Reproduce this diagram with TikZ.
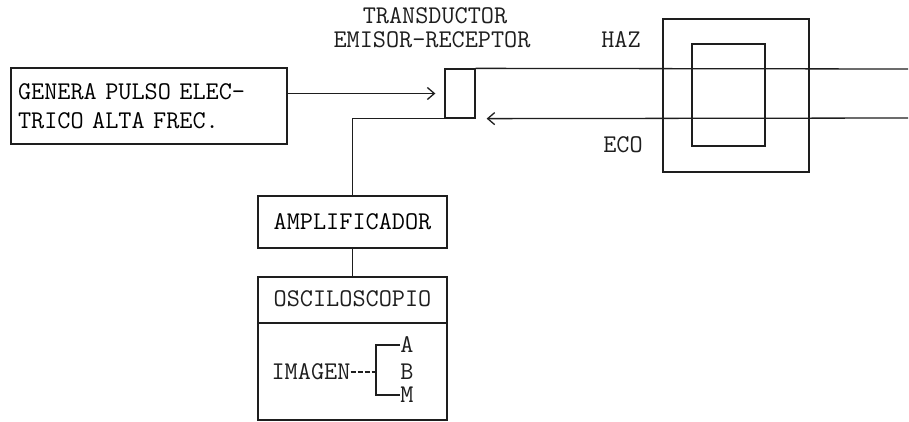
\documentclass[tikz,border=0pt]{standalone}
\usetikzlibrary{arrows.meta}
\definecolor{Cink}{HTML}{1E1E1E}

\begin{document}
\begin{tikzpicture}[x=1pt,y=-1pt,
		font=\ttfamily\fontsize{25.5}{29}\selectfont,
		box/.style={draw=Cink,line width=1.3pt,inner sep=0pt},
		wire/.style={draw=Cink,line width=1.3pt},
		chev/.style={-{Straight Barb[length=7pt,width=12pt,line width=1.3pt]}},
		lbl/.style={text=Cink,inner sep=0pt}]
	\useasboundingbox[fill=white] (0,0) rectangle (909,421);
	% bloques
	\node[box,minimum width=276pt,minimum height=76pt,text width=262pt,align=left]
	(genera) at (149,106) {GENERA PULSO ELEC-\\TRICO ALTA FREC.};
	\node[box,minimum width=30pt,minimum height=49pt] (trans) at (460,93.5) {};
	\node[box,minimum width=189pt,minimum height=52pt] (ampli) at (352.5,222) {AMPLIFICADOR};
	\node[box,minimum width=189pt,minimum height=143pt] (osci) at (352.5,348.5) {};
	\node[lbl] (oscititle) at (352.5,299) {OSCILOSCOPIO};
	\draw[wire] (osci.west |- 0,323) -- (osci.east |- 0,323);
	% objeto
	\draw[wire] (663,19) rectangle (809,172);
	\draw[wire] (692,44) rectangle (765,146);
	% rotulos
	\node[lbl] (transtop) at (435,16) {TRANSDUCTOR};
	\node[lbl] (transbot) at (432,40) {EMISOR-RECEPTOR};
	\node[lbl] (haz) at (621,40) {HAZ};
	\node[lbl] (eco) at (623,145) {ECO};
	% conexiones
	\coordinate (hazend) at (908,69);
	\coordinate (ecoend) at (908,118);
	\draw[wire,chev,shorten >=9pt] (genera.east |- trans.west) -- (trans.west);
	\draw[wire] (trans.north east) -- (hazend);
	\draw[wire,chev,shorten >=11pt] (ecoend) -- (trans.south east);
	\draw[wire] (trans.south west) -| (ampli.north);
	\draw[wire] (ampli.south) -- (osci.north);
	% imagen
	\node[lbl] (imagen) at (311,372) {IMAGEN};
	\node[lbl] (ia) at (407,345) {A};
	\node[lbl] (ib) at (407,372) {B};
	\node[lbl] (im) at (407,395) {M};
	\coordinate (brk) at (376,372);
	\draw[wire,dash pattern=on 5pt off 2pt] (imagen.east) -- (brk);
	\draw[wire] (ia.west) -| (brk) |- (im.west);
\end{tikzpicture}
\end{document}
